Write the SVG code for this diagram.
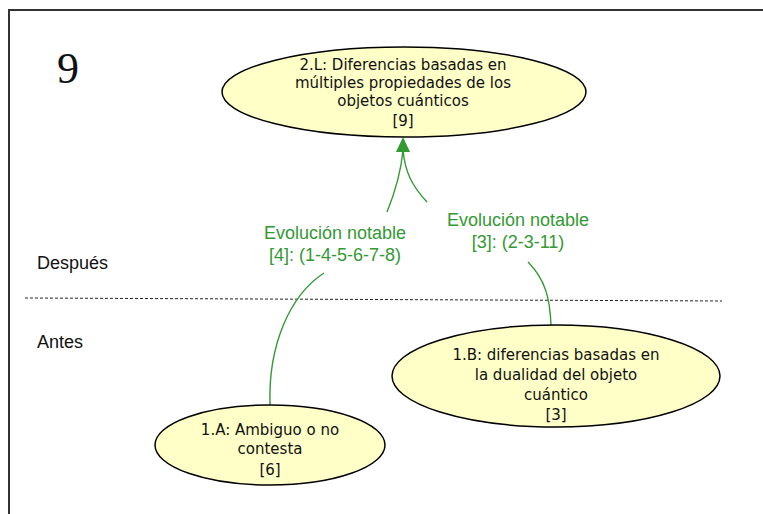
<svg xmlns="http://www.w3.org/2000/svg" width="763" height="514" viewBox="0 0 763 514">
<defs>
<style>
.node ellipse{fill:#ffffc8;stroke:#000;stroke-width:1.5}
.node text{font-family:"DejaVu Sans","Liberation Sans",sans-serif;font-size:15px;fill:#111;text-anchor:middle}
.conn path{fill:none;stroke:#339933;stroke-width:1.4}
.lbl{font-family:"Liberation Sans",Arial,sans-serif;font-size:18px;fill:#339933;text-anchor:middle}
.side{font-family:"Liberation Sans",Arial,sans-serif;font-size:18px;fill:#111}
</style>
</defs>
<rect width="763" height="514" fill="#fff"/>
<path d="M9,514 V10 H763" fill="none" stroke="#333" stroke-width="2"/>
<text x="57" y="83" font-family="Liberation Serif,serif" font-size="44" fill="#111">9</text>
<text class="side" x="37" y="269">Después</text>
<text class="side" x="37" y="348">Antes</text>
<path d="M25,298 L722,301" stroke="#222" stroke-width="1" stroke-dasharray="3,2" fill="none"/>
<g class="conn" id="connectors">
<path d="M270,405 C268,345 290,295 324,273"/>
<path d="M387,212 C396,190 401,172 403,150"/>
<path d="M551,325 C550,300 546,280 528,262"/>
<path d="M427,202 C412,186 405,172 403,150"/>
<polygon points="403,137 396,152 410,152" fill="#339933" stroke="none"/>
<text class="lbl" x="335" y="239">Evolución notable</text>
<text class="lbl" x="335" y="261">[4]: (1-4-5-6-7-8)</text>
<text class="lbl" x="518" y="226">Evolución notable</text>
<text class="lbl" x="518" y="248">[3]: (2-3-11)</text>
</g>
<g class="node" id="n2L">
<ellipse cx="404" cy="92" rx="182" ry="45"/>
<text x="403" y="70">2.L: Diferencias basadas en</text>
<text x="403" y="88">múltiples propiedades de los</text>
<text x="403" y="106">objetos cuánticos</text>
<text x="403" y="126">[9]</text>
</g>
<g class="node" id="n1B">
<ellipse cx="556" cy="376" rx="164" ry="51"/>
<text x="556" y="360">1.B: diferencias basadas en</text>
<text x="556" y="380">la dualidad del objeto</text>
<text x="556" y="400">cuántico</text>
<text x="556" y="420">[3]</text>
</g>
<g class="node" id="n1A">
<ellipse cx="270" cy="445" rx="115" ry="40"/>
<text x="270" y="435">1.A: Ambiguo o no</text>
<text x="270" y="454">contesta</text>
<text x="270" y="475">[6]</text>
</g>
</svg>
